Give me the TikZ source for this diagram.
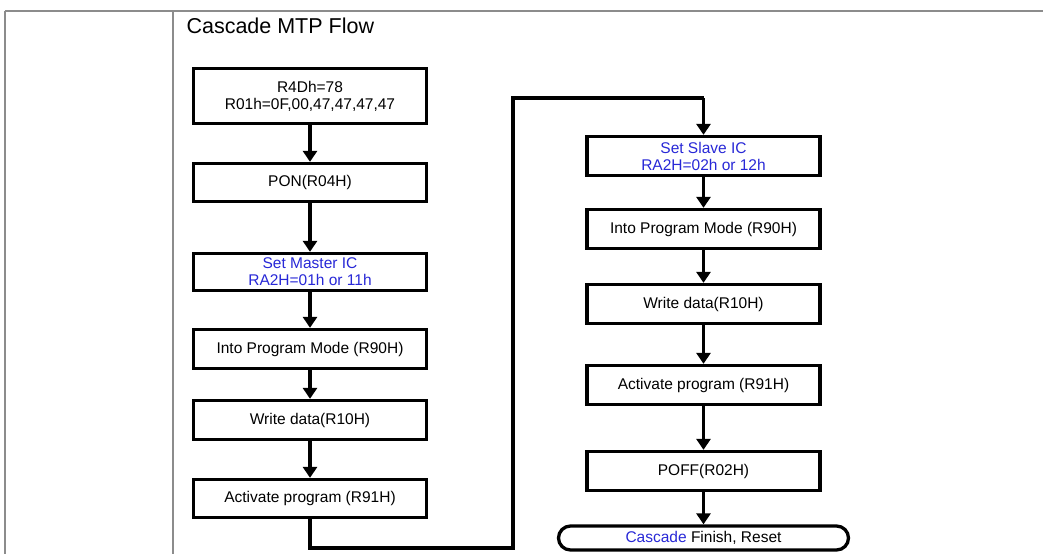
\documentclass[tikz,border=0pt]{standalone}
\usepackage{fontspec}
\setmainfont{Liberation Sans}
\usetikzlibrary{arrows.meta}
\definecolor{lblue}{RGB}{40,40,215}
\definecolor{tgray}{RGB}{140,140,140}
\tikzset{
  stepbox/.style={draw=black, line width=3.3pt, fill=white, minimum width=233pt, inner sep=2pt,
    align=center, font=\fontsize{15.5}{17}\selectfont},
  termbox/.style={draw=black, line width=3.3pt, fill=white, minimum width=290pt, minimum height=24pt,
    rounded corners=12pt, inner sep=1pt, font=\fontsize{15.5}{17}\selectfont},
  flow/.style={line width=3.3pt, -{Triangle[length=11pt,width=14pt]}},
  plain/.style={line width=3.3pt},
  tline/.style={draw=tgray, line width=1.6pt}
}
\begin{document}
\begin{tikzpicture}[x=1pt,y=-1pt]
\useasboundingbox (0,0) rectangle (1043,554);
% table lines
\draw[tline] (5,11) -- (1043,11);
\draw[tline] (5,11) -- (5,554);
\draw[tline] (173,11) -- (173,554);
\node[anchor=west, font=\fontsize{21.5}{24}\selectfont] (title) at (183,26) {Cascade MTP Flow};
% left column
\node[stepbox, minimum height=55pt] (b1) at (310,96) {R4Dh=78\\R01h=0F,00,47,47,47,47};
\node[stepbox, minimum height=38pt] (b2) at (310,182.5) {PON(R04H)};
\node[stepbox, minimum height=37pt, text=lblue] (b3) at (310,272) {Set Master IC\\RA2H=01h or 11h};
\node[stepbox, minimum height=39pt] (b4) at (310,349) {Into Program Mode (R90H)};
\node[stepbox, minimum height=39pt] (b5) at (310,420) {Write data(R10H)};
\node[stepbox, minimum height=38pt] (b6) at (310,498.5) {Activate program (R91H)};
% right column
\node[stepbox, minimum height=39pt, text=lblue] (c1) at (703.5,156) {Set Slave IC\\RA2H=02h or 12h};
\node[stepbox, minimum height=39pt] (c2) at (703.5,229) {Into Program Mode (R90H)};
\node[stepbox, minimum height=39pt] (c3) at (703.5,304) {Write data(R10H)};
\node[stepbox, minimum height=39pt] (c4) at (703.5,385) {Activate program (R91H)};
\node[stepbox, minimum height=39pt] (c5) at (703.5,471) {POFF(R02H)};
\node[termbox] (c6) at (703.5,538) {\textcolor{lblue}{Cascade} Finish, Reset};
% connectors
\draw[flow] (b1) -- (b2);
\draw[flow] (b2) -- (b3);
\draw[flow] (b3) -- (b4);
\draw[flow] (b4) -- (b5);
\draw[flow] (b5) -- (b6);
\coordinate (k1) at (310,548);
\coordinate (k2) at (513,548);
\coordinate (k3) at (513,98);
\coordinate (k4) at (703.5,98);
\draw[plain, line join=miter] (b6.south) -- (k1) -- (k2) -- (k3) -- (k4);
\draw[flow] (k4) -- (c1.north);
\draw[flow] (c1) -- (c2);
\draw[flow] (c2) -- (c3);
\draw[flow] (c3) -- (c4);
\draw[flow] (c4) -- (c5);
\draw[flow] (c5) -- (c6);
\end{tikzpicture}
\end{document}
